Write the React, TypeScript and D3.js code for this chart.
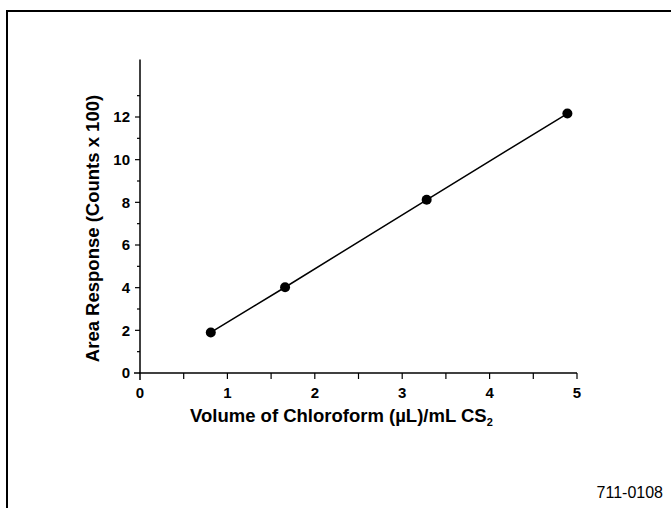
import React from "react";
import * as d3 from "d3";

const volumes = [0.81, 1.66, 3.28, 4.89];
const responses = [1.9, 4.02, 8.12, 12.16];
const xTickLabels = [0, 1, 2, 3, 4, 5];
const yTickLabels = [0, 2, 4, 6, 8, 10, 12];

export default function App() {
  const W = 671, H = 508;
  const x = d3.scaleLinear().domain([0, 5]).range([140, 577]);
  const y = d3.scaleLinear().domain([0, 12]).range([373, 117]);
  const yTop = y(14.7);
  const pts = volumes.map((v, i) => [x(v), y(responses[i])] as [number, number]);
  const line = d3.line()(pts) || "";
  const xMinor = d3.range(0.5, 5.01, 0.5);
  const yMinor = d3.range(1, 14, 1);
  const font = "'Liberation Sans', Arial, Helvetica, sans-serif";
  return (
    <svg width={W} height={H} style={{ position: "absolute", left: 0, top: 0 }} fontFamily={font}>
      <rect x={0} y={0} width={W} height={H} fill="#fff" />
      <rect x={7} y={11} width={W + 20} height={H + 20} fill="none" stroke="#000" strokeWidth={2} />
      {/* axes */}
      <line x1={x(0)} x2={x(0)} y1={yTop} y2={y(0) + 7} stroke="#000" strokeWidth={1.5} />
      <line x1={x(0) - 1} x2={x(5)} y1={y(0)} y2={y(0)} stroke="#000" strokeWidth={1.5} />
      {yMinor.map((v) => (
        <line key={"ym" + v} x1={x(0) - (v % 2 === 0 ? 5 : 3)} x2={x(0)} y1={y(v)} y2={y(v)} stroke="#000" strokeWidth={1.2} />
      ))}
      <line x1={x(0) - 6} x2={x(0)} y1={y(0)} y2={y(0)} stroke="#000" strokeWidth={1.5} />
      {xMinor.map((v) => (
        <line key={"xm" + v} x1={x(v)} x2={x(v)} y1={y(0)} y2={y(0) + 6} stroke="#000" strokeWidth={1.2} />
      ))}
      {yTickLabels.map((v) => (
        <text key={"yl" + v} x={130} y={y(v)} dy="0.36em" textAnchor="end" fontSize={15} fontWeight="bold">{v}</text>
      ))}
      {xTickLabels.map((v) => (
        <text key={"xl" + v} x={x(v)} y={393} dy="0.36em" textAnchor="middle" fontSize={15} fontWeight="bold">{v}</text>
      ))}
      <text transform={`translate(99,${228.5}) rotate(-90)`} textAnchor="middle" fontSize={18.5} fontWeight="bold">Area Response (Counts x 100)</text>
      <text x={190} y={422} textAnchor="start" fontSize={18.5} fontWeight="bold">
        Volume of Chloroform (µL)/mL CS<tspan fontSize={11} dy={4}>2</tspan>
      </text>
      <path d={line} fill="none" stroke="#000" strokeWidth={1.5} />
      {pts.map((p, i) => (
        <circle key={"p" + i} cx={p[0]} cy={p[1]} r={5} fill="#000" />
      ))}
      <text x={663} y={498} textAnchor="end" fontSize={16}>711-0108</text>
    </svg>
  );
}
